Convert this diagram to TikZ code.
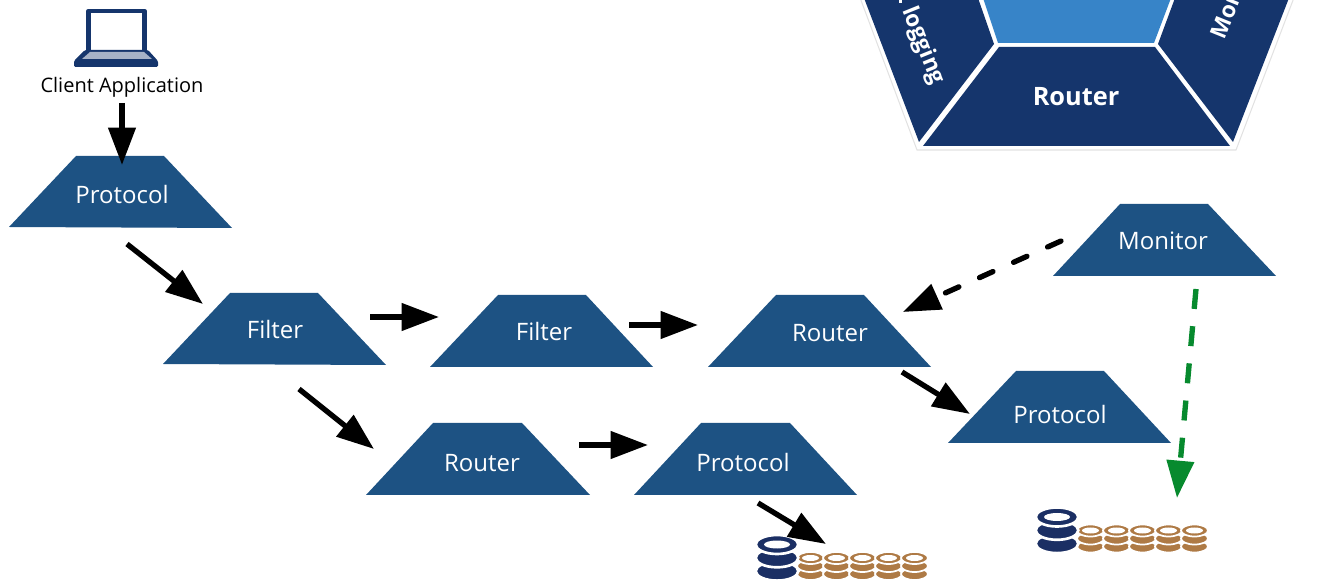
\documentclass[tikz,border=0pt]{standalone}
\usepackage{fontspec}
\setmainfont{Open Sans}
\usetikzlibrary{arrows.meta}
\definecolor{trap}{HTML}{1D5283}
\definecolor{navy}{HTML}{15356C}
\definecolor{midblue}{HTML}{3784C8}
\definecolor{stackblue}{HTML}{1B2F64}
\definecolor{stackbrown}{HTML}{AE7A45}
\definecolor{flowgreen}{HTML}{078A2E}
\definecolor{outl}{HTML}{E2E2E2}
\tikzset{
  x=0.75pt,y=-0.75pt,
  traplabel/.style={font=\fontsize{18}{20}\selectfont,text=white,inner sep=0pt},
  flow/.style={line width=4pt,-{Triangle[length=28pt,width=20pt]},black},
  dashflow/.style={flow,line cap=round,dash pattern=on 11pt off 17pt},
  greenflow/.style={flow,flowgreen,dash pattern=on 15pt off 13pt,-{Triangle[length=28pt,width=20pt,fill=flowgreen]}},
  panel/.style={fill=navy,draw=none},
  paneltext/.style={font=\fontsize{19}{22}\selectfont\bfseries,text=white,inner sep=0pt},
  slanttext/.style={font=\fontsize{17}{20}\selectfont\bfseries,text=white,inner sep=0pt},
}
\newcommand{\brownstack}[2]{%
  \foreach \k in {2,1,0}{
    \draw[white,line width=1.3pt,fill=stackbrown] (#1,#2+\k*8) ellipse[x radius=13.5,y radius=6];
  }
  \fill[white] (#1,#2) ellipse[x radius=8.5,y radius=3];
}
\newcommand{\bluestack}[2]{%
  \foreach \k in {2,1,0}{
    \draw[white,line width=2pt,fill=stackblue] (#1,#2+\k*13.3) ellipse[x radius=21.3,y radius=9.5];
  }
  \fill[white] (#1,#2) ellipse[x radius=13,y radius=4];
}
\begin{document}
\begin{tikzpicture}
\useasboundingbox (0,0) rectangle (1317,580);
\clip (0,0) rectangle (1317,580);

% hexagon
\draw[outl,line width=0.8pt] (859,-5) -- (917,150) -- (1236,150) -- (1295,-5);
\fill[midblue] (983,-2) -- (998,43) -- (1154,43) -- (1171,-2) -- cycle;
\fill[panel] (923,146) -- (999,47) -- (1155,47) -- (1230,146) -- cycle;
\fill[panel] (864,-2) -- (919,142) -- (994,44) -- (978,-2) -- cycle;
\fill[panel] (1289,-2) -- (1233,142) -- (1158,44) -- (1175,-2) -- cycle;
\node[paneltext] (hexrouter) at (1076,97) {Router};
\node[slanttext,rotate=-68] (hexlogging) at (923,46) {logging};
\fill[white] (899,0) rectangle (902,3);
\node[slanttext,rotate=68,anchor=south west] (hexmonitor) at (1225,41) {Mon};

% laptop
\draw[navy,line width=3.4pt,fill=white,line join=round] (88.5,52) -- (88.5,11) -- (144.5,11) -- (144.5,52);
\fill[navy,rounded corners=1pt] (74,61) -- (85,50) -- (148,50) -- (158,61) -- (158,67) -- (74,67) -- cycle;
\fill[white!62!navy] (82,59) -- (90,52) -- (144,52) -- (152,59) -- cycle;
\node[font=\fontsize{15}{18}\selectfont,inner sep=0pt] (client) at (122,87) {Client Application};

% trapezoids
\fill[trap] (76,156) -- (164,156) -- (232,228) -- (9,227) -- cycle;
\node[traplabel] (p1) at (122,195) {Protocol};
\fill[trap] (230,293) -- (318,293) -- (386,365) -- (163,364) -- cycle;
\node[traplabel] (f1) at (275,330) {Filter};
\fill[trap] (498,295) -- (586,295) -- (653,367) -- (430,367) -- cycle;
\node[traplabel] (f2) at (544,332) {Filter};
\fill[trap] (776,295) -- (864,295) -- (931,367) -- (708,367) -- cycle;
\node[traplabel] (r1) at (830,333) {Router};
\fill[trap] (1016,371) -- (1104,371) -- (1171,443) -- (948,443) -- cycle;
\node[traplabel] (p2) at (1060,415) {Protocol};
\fill[trap] (1120,204) -- (1208,204) -- (1276,276) -- (1053,276) -- cycle;
\node[traplabel] (mon) at (1163,241) {Monitor};
\fill[trap] (433,423) -- (522,423) -- (590,495) -- (366,495) -- cycle;
\node[traplabel] (r2) at (482,463) {Router};
\fill[trap] (701,423) -- (790,423) -- (857,495) -- (634,495) -- cycle;
\node[traplabel] (p3) at (743,463) {Protocol};

% stacks
\foreach \x in {810.5,836.5,862.5,888.5,914.5}{\brownstack{\x}{558}}
\bluestack{777}{544.5}
\foreach \x in {1090.5,1116.5,1142.5,1168.5,1194.5}{\brownstack{\x}{530.5}}
\bluestack{1057}{517}

% arrows
\coordinate (a1s) at (122,103); \coordinate (a1e) at (122,165);
\coordinate (a2s) at (127,244); \coordinate (a2e) at (203,304);
\coordinate (a3s) at (370,317); \coordinate (a3e) at (439,317);
\coordinate (a4s) at (629,325); \coordinate (a4e) at (698,325);
\coordinate (a5s) at (299,389); \coordinate (a5e) at (374,449);
\coordinate (a6s) at (579,445); \coordinate (a6e) at (648,445);
\coordinate (a7s) at (902,372); \coordinate (a7e) at (970,414);
\coordinate (a8s) at (758,503); \coordinate (a8e) at (826,544);
\coordinate (a9s) at (1061,241); \coordinate (a9e) at (903,312);
\coordinate (a10s) at (1196,289); \coordinate (a10e) at (1177,498);
\draw[flow] (a1s) -- (a1e);
\draw[flow] (a2s) -- (a2e);
\draw[flow] (a3s) -- (a3e);
\draw[flow] (a4s) -- (a4e);
\draw[flow] (a5s) -- (a5e);
\draw[flow] (a6s) -- (a6e);
\draw[flow] (a7s) -- (a7e);
\draw[flow] (a8s) -- (a8e);
\draw[dashflow] (a9s) -- (a9e);
\draw[greenflow] (a10s) -- (a10e);
\end{tikzpicture}
\end{document}
